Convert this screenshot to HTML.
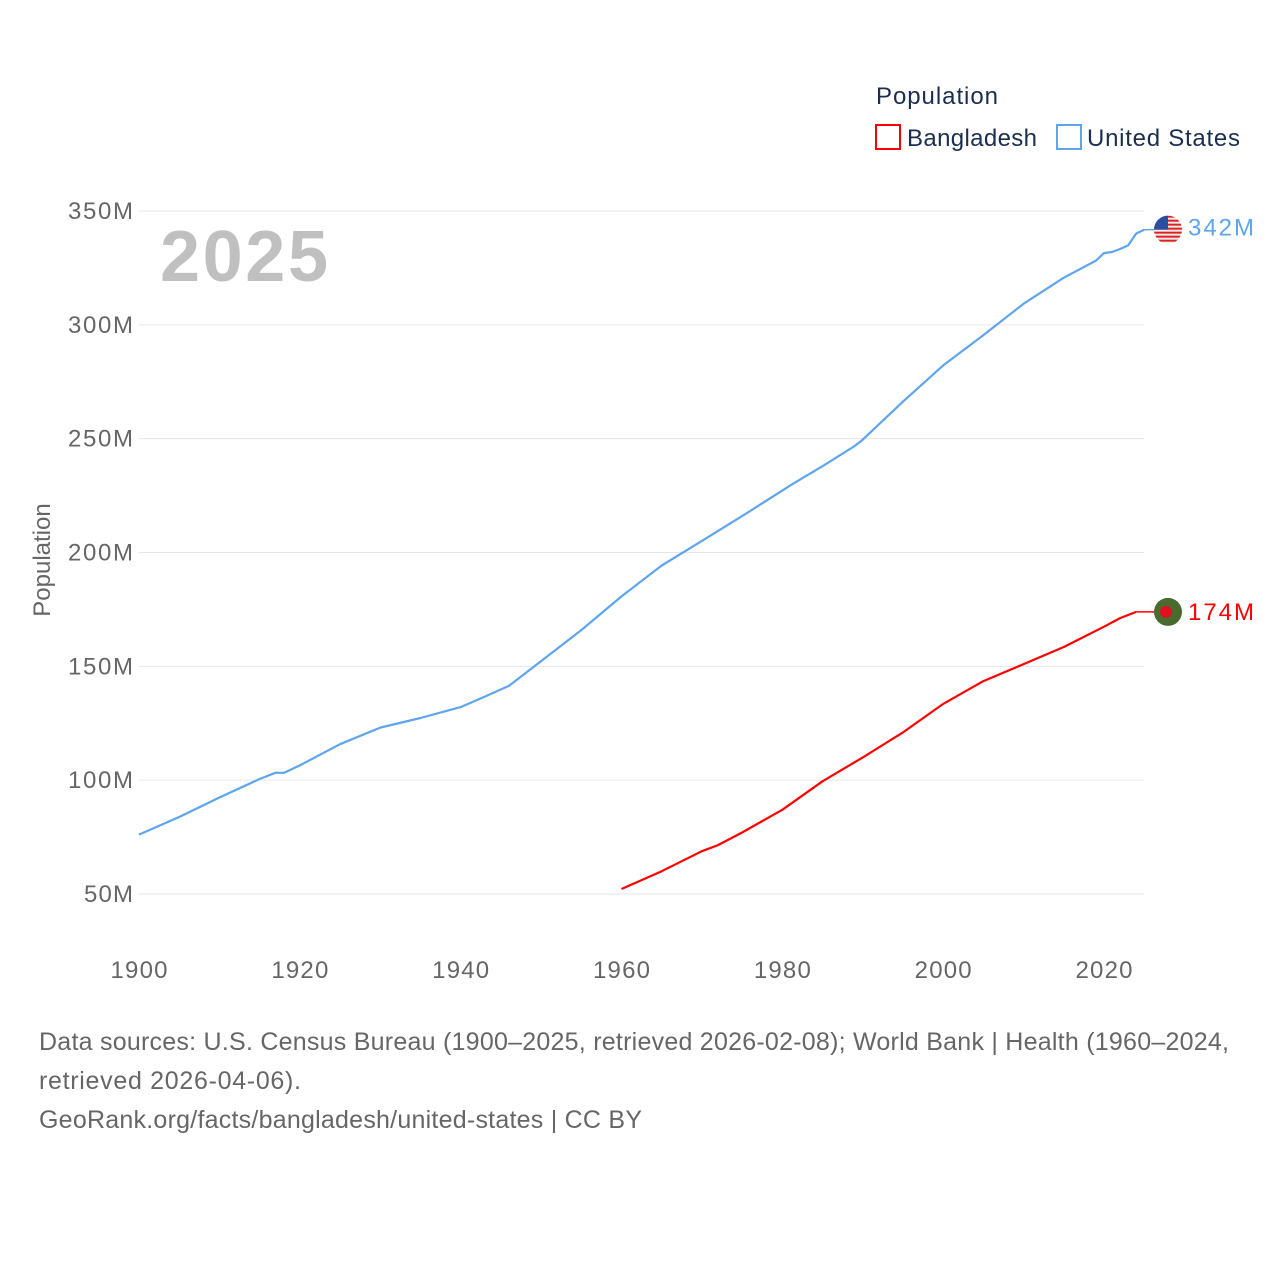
<!DOCTYPE html>
<html><head><meta charset="utf-8"><style>
body{margin:0;background:#fff;}
svg{display:block;font-family:"Liberation Sans",sans-serif;}
</style></head><body>
<svg id="chart" width="1280" height="1280" viewBox="0 0 1280 1280">
<g>
<text x="876" y="104" font-size="24" fill="#1a2e4f" textLength="122">Population</text>
<rect x="876" y="125" width="24" height="24" fill="none" stroke="#f00" stroke-width="2"/>
<text x="907" y="146" font-size="24" fill="#1a2e4f" textLength="130">Bangladesh</text>
<rect x="1057" y="125" width="24" height="24" fill="none" stroke="#5ea5ee" stroke-width="2"/>
<text x="1087" y="146" font-size="24" fill="#1a2e4f" textLength="153">United States</text>
</g>
<g id="grid"></g>
<g id="yticks"></g>
<g id="xticks"></g>
<text x="160" y="281" font-size="72" font-weight="bold" fill="#c0c0c0" textLength="168">2025</text>
<text transform="translate(50,560) rotate(-90)" text-anchor="middle" font-size="24" fill="#666">Population</text>
<g id="series"></g>
<g font-size="25" fill="#666">
<text x="39" y="1050" textLength="1190">Data sources: U.S. Census Bureau (1900–2025, retrieved 2026-02-08); World Bank | Health (1960–2024,</text>
<text x="39" y="1089" textLength="262">retrieved 2026-04-06).</text>
<text x="39" y="1128" textLength="603">GeoRank.org/facts/bangladesh/united-states | CC BY</text>
</g>
</svg>
<script>
const yTicks=[50,100,150,200,250,300,350];
const xTicks=[1900,1920,1940,1960,1980,2000,2020];
const usYears=[1900,1905,1910,1915,1917,1918,1920,1925,1930,1935,1940,1943,1946,1950,1955,1960,1965,1970,1975,1980,1981,1985,1989,1990,1995,2000,2005,2010,2015,2019,2020,2021,2022,2023,2024,2025];
const usValues=[76.1,83.8,92.4,100.5,103.3,103.2,106.5,115.8,123.1,127.3,132.1,136.7,141.4,152.3,165.9,180.7,194.3,205.1,216.0,227.2,229.5,237.9,246.8,249.6,266.3,282.2,295.5,309.3,320.7,328.2,331.5,332.0,333.3,334.9,340.1,341.8];
const bdYears=[1960,1965,1970,1972,1975,1980,1985,1990,1995,2000,2005,2010,2015,2020,2022,2024];
const bdValues=[52.2,60.0,68.8,71.5,77.0,87.0,99.5,110.0,121.0,133.5,143.5,151.0,158.5,167.4,171.2,173.9];
const X=y=>139+(y-1900)*(965/120);
const Y=v=>894-(v-50)*(683/300);
const NS='http://www.w3.org/2000/svg';
function mk(tag,attrs,parent,text){const e=document.createElementNS(NS,tag);for(const k in attrs)e.setAttribute(k,attrs[k]);if(text!==undefined)e.textContent=text;parent.appendChild(e);return e;}
const grid=document.getElementById('grid'),yt=document.getElementById('yticks'),xt=document.getElementById('xticks'),ser=document.getElementById('series');
yTicks.forEach(v=>{
 const l=mk('line',{x1:139,x2:1144,y1:Y(v),y2:Y(v),stroke:'#e6e6e6','stroke-width':1},grid);
 
 
 const lab=v+'M';
 const t=mk('text',{x:133,y:Y(v)+8,'text-anchor':'end','font-size':24,fill:'#666',textLength:(lab.length*16.3).toFixed(0)},yt,lab);
 
 
});
xTicks.forEach(y=>{
 const t=mk('text',{x:X(y),y:978,'text-anchor':'middle','font-size':24,fill:'#666',textLength:57},xt,String(y));
 
 
});
function line(years,vals,color,name){
 const d=years.map((y,i)=>(i?'L':'M')+X(y).toFixed(1)+','+Y(vals[i]).toFixed(1)).join('');
 const p=mk('path',{d:d,fill:'none',stroke:color,'stroke-width':2.2,'stroke-linejoin':'round'},ser);
 
 
}
line(usYears,usValues,'#5ea5ee','line-united-states');
line(bdYears,bdValues,'#ff0000','line-bangladesh');
const usEnd=Y(usValues[usValues.length-1]), bdEnd=Y(bdValues[bdValues.length-1]);
const c1=mk('line',{x1:X(usYears[usYears.length-1]),x2:1155,y1:usEnd,y2:usEnd,stroke:'#5ea5ee','stroke-width':1.5},ser);


const c2=mk('line',{x1:X(bdYears[bdYears.length-1]),x2:1155,y1:bdEnd,y2:bdEnd,stroke:'#ff0000','stroke-width':1.5},ser);


const fg=mk('g',{},ser);


mk('defs',{},fg).innerHTML='<clipPath id="uc"><circle cx="1168" cy="'+usEnd+'" r="14"/></clipPath>';
const fl=mk('g',{'clip-path':'url(#uc)'},fg);
mk('rect',{x:1154,y:usEnd-14,width:28,height:28,fill:'#eee'},fl);
for(let i=0;i<7;i++)mk('rect',{x:1154,y:usEnd-14+i*4,width:28,height:2,fill:'#d22'},fl);
mk('rect',{x:1154,y:usEnd-14,width:14,height:14,fill:'#2a4fa0'},fl);
const ut=mk('text',{x:1188,y:usEnd+6,'font-size':24,fill:'#5ea5ee',textLength:66},ser,'342M');


const bg=mk('g',{},ser);


mk('circle',{cx:1168,cy:bdEnd,r:14,fill:'#4a6b2e'},bg);
mk('circle',{cx:1166,cy:bdEnd,r:6,fill:'#e01020'},bg);
const bt=mk('text',{x:1188,y:bdEnd+8,'font-size':24,fill:'#ff0000',textLength:66},ser,'174M');


</script>
</body></html>
